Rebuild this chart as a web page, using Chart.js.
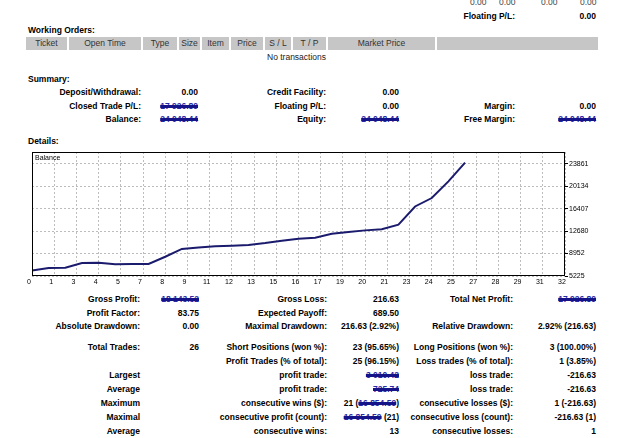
<!DOCTYPE html>
<html>
<head>
<meta charset="utf-8">
<script src="https://cdn.jsdelivr.net/npm/chart.js@4.4.1/dist/chart.umd.min.js"></script>
<style>
  html, body { margin: 0; padding: 0; background: #fff; }
  body { width: 625px; height: 438px; position: relative; overflow: hidden;
         font-family: "Liberation Sans", Arial, sans-serif; font-size: 8.5px; color: #000; }
  .t { position: absolute; line-height: 10px; white-space: nowrap; }
  .b { font-weight: bold; }
  .r { text-align: right; }
  .hdr { position: absolute; left: 26px; top: 37px; width: 572px; height: 13px; background: #c6c6c6; }
  .hdr div { position: absolute; top: 0; height: 13px; line-height: 13px; text-align: center; color: #333; border-right: 2px solid #fff; box-sizing: border-box; }
  .scr { color: #2a2aa6; text-decoration: line-through 3px #141488; }
  #chartWrap { position: absolute; left: 0; top: 140px; width: 625px; height: 152px; }
</style>
</head>
<body>

<!-- top -->
<div class="t" style="left:470px;top:-3px;color:#444">0.00</div>
<div class="t" style="left:499px;top:-3px;color:#444">0.00</div>
<div class="t" style="left:541px;top:-3px;color:#444">0.00</div>
<div class="t" style="left:580px;top:-3px;color:#444">0.00</div>
<div class="t b r" style="right:110px;top:11px">Floating P/L:</div>
<div class="t b r" style="right:29px;top:11px">0.00</div>

<div class="t b" style="left:28px;top:25px">Working Orders:</div>
<div class="hdr">
  <div style="left:0;width:43px">Ticket</div>
  <div style="left:43px;width:74px">Open Time</div>
  <div style="left:117px;width:36px">Type</div>
  <div style="left:153px;width:23px">Size</div>
  <div style="left:176px;width:29px">Item</div>
  <div style="left:205px;width:34px">Price</div>
  <div style="left:239px;width:28px">S / L</div>
  <div style="left:267px;width:35px">T / P</div>
  <div style="left:302px;width:109px">Market Price</div>
</div>
<div class="t" style="left:267px;top:52px;color:#222">No transactions</div>

<!-- summary -->
<div class="t b" style="left:28px;top:74px">Summary:</div>
<div class="t b r" style="right:484px;top:87px">Deposit/Withdrawal:</div>
<div class="t b r" style="right:427px;top:87px">0.00</div>
<div class="t b r" style="right:299px;top:87px">Credit Facility:</div>
<div class="t b r" style="right:226px;top:87px">0.00</div>

<div class="t b r" style="right:484px;top:101px">Closed Trade P/L:</div>
<div class="t b r scr" style="right:427px;top:101px">17 926.89</div>
<div class="t b r" style="right:299px;top:101px">Floating P/L:</div>
<div class="t b r" style="right:226px;top:101px">0.00</div>
<div class="t b r" style="right:110px;top:101px">Margin:</div>
<div class="t b r" style="right:29px;top:101px">0.00</div>

<div class="t b r" style="right:484px;top:114px">Balance:</div>
<div class="t b r scr" style="right:427px;top:114px">24 048.44</div>
<div class="t b r" style="right:299px;top:114px">Equity:</div>
<div class="t b r scr" style="right:226px;top:114px">24 048.44</div>
<div class="t b r" style="right:110px;top:114px">Free Margin:</div>
<div class="t b r scr" style="right:29px;top:114px">24 048.44</div>

<div class="t b" style="left:28px;top:136px">Details:</div>

<div id="chartWrap"><canvas id="c" width="625" height="152"></canvas></div>

<!-- details -->
<div class="t b r" style="right:485px;top:294px">Gross Profit:</div>
<div class="t b r scr" style="right:426px;top:294px">18 143.52</div>
<div class="t b r" style="right:298px;top:294px">Gross Loss:</div>
<div class="t b r" style="right:226px;top:294px">216.63</div>
<div class="t b r" style="right:112px;top:294px">Total Net Profit:</div>
<div class="t b r scr" style="right:29px;top:294px">17 926.89</div>

<div class="t b r" style="right:485px;top:308px">Profit Factor:</div>
<div class="t b r" style="right:426px;top:308px">83.75</div>
<div class="t b r" style="right:298px;top:308px">Expected Payoff:</div>
<div class="t b r" style="right:226px;top:308px">689.50</div>

<div class="t b r" style="right:485px;top:321px">Absolute Drawdown:</div>
<div class="t b r" style="right:426px;top:321px">0.00</div>
<div class="t b r" style="right:298px;top:321px">Maximal Drawdown:</div>
<div class="t b r" style="right:226px;top:321px">216.63 (2.92%)</div>
<div class="t b r" style="right:112px;top:321px">Relative Drawdown:</div>
<div class="t b r" style="right:29px;top:321px">2.92% (216.63)</div>

<div class="t b r" style="right:485px;top:342px">Total Trades:</div>
<div class="t b r" style="right:426px;top:342px">26</div>
<div class="t b r" style="right:298px;top:342px">Short Positions (won %):</div>
<div class="t b r" style="right:226px;top:342px">23 (95.65%)</div>
<div class="t b r" style="right:112px;top:342px">Long Positions (won %):</div>
<div class="t b r" style="right:29px;top:342px">3 (100.00%)</div>

<div class="t b r" style="right:298px;top:356px">Profit Trades (% of total):</div>
<div class="t b r" style="right:226px;top:356px">25 (96.15%)</div>
<div class="t b r" style="right:112px;top:356px">Loss trades (% of total):</div>
<div class="t b r" style="right:29px;top:356px">1 (3.85%)</div>

<div class="t b r" style="right:485px;top:370px">Largest</div>
<div class="t b r" style="right:298px;top:370px">profit trade:</div>
<div class="t b r scr" style="right:226px;top:370px">3 010.42</div>
<div class="t b r" style="right:112px;top:370px">loss trade:</div>
<div class="t b r" style="right:29px;top:370px">-216.63</div>

<div class="t b r" style="right:485px;top:384px">Average</div>
<div class="t b r" style="right:298px;top:384px">profit trade:</div>
<div class="t b r scr" style="right:226px;top:384px">725.74</div>
<div class="t b r" style="right:112px;top:384px">loss trade:</div>
<div class="t b r" style="right:29px;top:384px">-216.63</div>

<div class="t b r" style="right:485px;top:398px">Maximum</div>
<div class="t b r" style="right:298px;top:398px">consecutive wins ($):</div>
<div class="t b r" style="right:226px;top:398px">21 (<span class="scr">16 854.59</span>)</div>
<div class="t b r" style="right:112px;top:398px">consecutive losses ($):</div>
<div class="t b r" style="right:29px;top:398px">1 (-216.63)</div>

<div class="t b r" style="right:485px;top:412px">Maximal</div>
<div class="t b r" style="right:298px;top:412px">consecutive profit (count):</div>
<div class="t b r" style="right:226px;top:412px"><span class="scr">16 854.59</span> (21)</div>
<div class="t b r" style="right:112px;top:412px">consecutive loss (count):</div>
<div class="t b r" style="right:29px;top:412px">-216.63 (1)</div>

<div class="t b r" style="right:485px;top:426px">Average</div>
<div class="t b r" style="right:298px;top:426px">consecutive wins:</div>
<div class="t b r" style="right:226px;top:426px">13</div>
<div class="t b r" style="right:112px;top:426px">consecutive losses:</div>
<div class="t b r" style="right:29px;top:426px">1</div>

<script>
// balance after each closed trade (trade 0 = starting balance)
const trades = [0, 1, 2, 3, 4, 5, 6, 7, 8, 9, 10, 11, 12, 13, 14, 15, 16, 17, 18, 19, 20, 21, 22, 23, 24, 25, 26];
const balance = [6121.55, 6540, 6600, 7385, 7410.48, 7193.85, 7205, 7230, 8420, 9720,
  9970, 10150, 10240, 10370, 10690, 11090, 11390, 11575, 12230, 12545,
  12795, 12995, 13750, 16760.42, 18160, 20930, 24048.44];

const xTickLabels = [0, 1, 3, 4, 5, 7, 8, 9, 11, 12, 13, 15, 16, 17, 19, 20, 21, 23, 24, 25, 27, 28, 29, 31, 32];
const yTickLabels = [5225, 8952, 12680, 16407, 20134, 23861];
const xMax = 32;
const yMin = 5225, yMax = 25800;

const pts = trades.map((t, i) => ({ x: t, y: balance[i] }));

// black frame around the plot + the "Balance" caption
const framePlugin = {
  id: 'frame',
  afterDraw(chart) {
    const a = chart.chartArea, ctx = chart.ctx;
    ctx.save();
    ctx.strokeStyle = '#000';
    ctx.lineWidth = 1;
    ctx.strokeRect(a.left + 0.5, a.top + 0.5, a.right - a.left - 1, a.bottom - a.top - 1);
    ctx.fillStyle = '#000';
    ctx.font = '7px "Liberation Sans", Arial, sans-serif';
    ctx.textBaseline = 'middle';
    ctx.fillText(chart.data.datasets[0].label, a.left + 3, a.top + 6);
    ctx.restore();
  }
};

new Chart(document.getElementById('c'), {
  type: 'line',
  data: {
    datasets: [{
      label: 'Balance',
      data: pts,
      borderColor: '#1b1b6e',
      borderWidth: 2,
      pointRadius: 0,
      tension: 0,
      fill: false
    }]
  },
  options: {
    responsive: false,
    animation: false,
    devicePixelRatio: 1,
    layout: { padding: { left: 32, top: 12, right: 0, bottom: 0 } },
    plugins: { legend: { display: false }, tooltip: { enabled: false } },
    scales: {
      x: {
        type: 'linear',
        min: 0,
        max: xMax,
        afterFit(s) { s.height = 16; },
        afterBuildTicks(s) {
          s.ticks = xTickLabels.map((l, i) => ({ value: i * xMax / (xTickLabels.length - 1) }));
        },
        grid: { color: '#bdbdbd', drawTicks: false },
        border: { display: false, dash: [2, 2] },
        ticks: {
          autoSkip: false,
          maxRotation: 0,
          padding: 2,
          labelOffset: -3,
          color: '#000',
          font: { size: 7, family: '"Liberation Sans", Arial, sans-serif' },
          callback: (v, i) => xTickLabels[i]
        }
      },
      y: {
        position: 'right',
        min: yMin,
        max: yMax,
        afterFit(s) { s.width = 60; },
        afterBuildTicks(s) {
          s.ticks = yTickLabels.map(v => ({ value: v }));
        },
        grid: { color: '#bdbdbd', tickLength: 3, tickColor: '#000' },
        border: { display: false, dash: [2, 2] },
        ticks: {
          padding: 1,
          color: '#000',
          font: { size: 7, family: '"Liberation Sans", Arial, sans-serif' },
          callback: v => String(v)
        }
      }
    }
  },
  plugins: [framePlugin]
});
</script>
</body>
</html>
